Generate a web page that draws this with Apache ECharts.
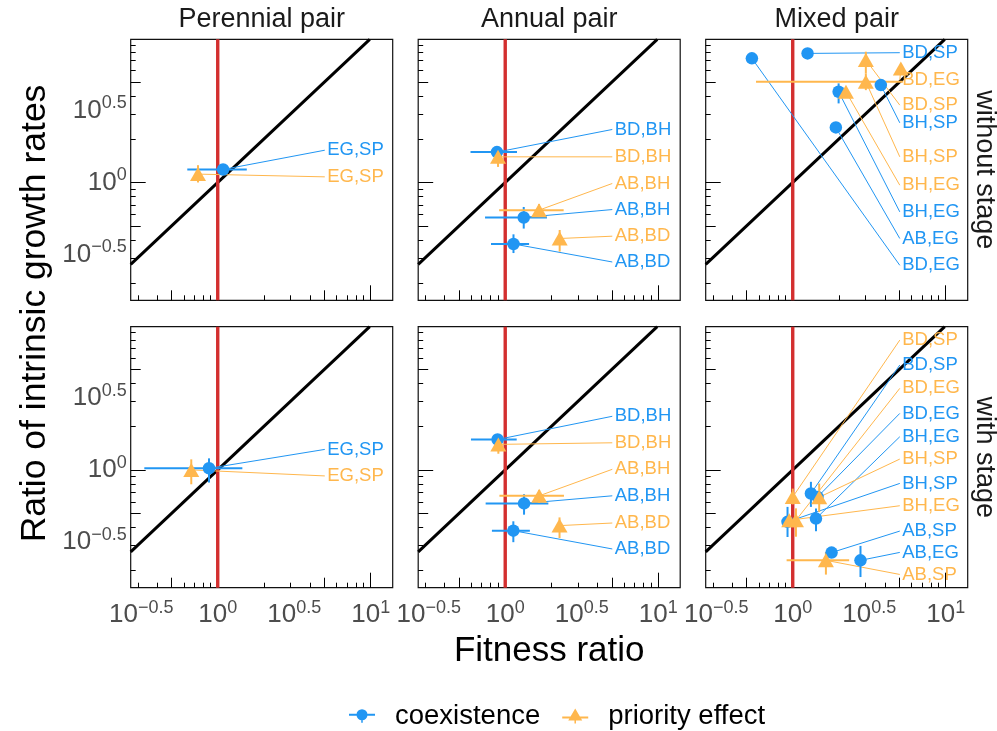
<!DOCTYPE html>
<html><head><meta charset="utf-8">
<script src="https://cdn.jsdelivr.net/npm/echarts@6/dist/echarts.min.js"></script>
<style>html,body{margin:0;padding:0;background:#fff}#c{width:997px;height:731px}</style>
</head><body><div id="c"></div>
<script>
// ---------- tick positions (ratio values) and tick labels (powers of ten) ----------
const xMinorTicks = [0.3, 0.4, 0.6, 0.7, 0.8, 0.9, 2, 3, 4, 6, 7, 8, 9];
const xMidTicks = [0.5, 5];
const xMajorTicks = [1, 10];
const yMinorTicks = [0.2, 0.3, 0.4, 0.6, 0.7, 0.8, 0.9, 2, 3, 4, 6, 7, 8, 9];
const yMidTicks = [0.5, 5];
const yMajorTicks = [1];
const xLabelExponents = [-0.5, 0, 0.5, 1];
const yLabelExponents = [-0.5, 0, 0.5];
const columnTitles = ['Perennial pair', 'Annual pair', 'Mixed pair'];
const rowTitles = ['without stage', 'with stage'];
const seriesNames = ['coexistence', 'priority effect'];
const xTitle = 'Fitness ratio';
const yTitle = 'Ratio of intrinsic growth rates';
const neutralFitness = 1;          // vertical reference line (fitness ratio = 1)

// ---------- data: [pair, log10 fitness ratio, log10 growth-rate ratio, x low, x high, y low, y high] ----------
const perennialWithoutCoex = [['EG,SP', 0.035, 0.090, -0.199, 0.190, 0.07, 0.11]];
const perennialWithoutPrio = [['EG,SP', -0.129, 0.058, null, null, 0.00, 0.12]];
const annualWithoutCoex = [
  ['BD,BH', -0.054, 0.211, -0.227, 0.077, null, null],
  ['AB,BH', 0.121, -0.243, -0.132, 0.273, -0.32, -0.17],
  ['AB,BD', 0.054, -0.427, -0.093, 0.156, -0.49, -0.36]];
const annualWithoutPrio = [
  ['BD,BH', -0.047, 0.178, null, null, 0.108, 0.224],
  ['AB,BH', 0.221, -0.192, -0.040, 0.382, -0.24, -0.15],
  ['AB,BD', 0.356, -0.389, null, null, -0.48, -0.33]];
const mixedWithoutCoex = [
  ['BD,SP', 0.097, 0.896, null, null, null, null],
  ['BH,SP', 0.576, 0.676, null, null, null, null],
  ['BH,EG', 0.300, 0.630, null, null, 0.549, 0.688],
  ['AB,EG', 0.282, 0.382, null, null, null, null],
  ['BD,EG', -0.267, 0.862, null, null, null, null]];
const mixedWithoutPrio = [
  ['BD,EG', 0.707, 0.792, null, null, null, null],
  ['BD,SP', 0.478, 0.850, null, null, 0.757, 0.908],
  ['BH,SP', 0.478, 0.699, -0.240, 0.720, 0.641, 0.757],
  ['BH,EG', 0.348, 0.630, null, null, null, null]];
const perennialWithCoex = [['EG,SP', -0.057, 0.011, -0.480, 0.161, -0.088, 0.080]];
const perennialWithPrio = [['EG,SP', -0.173, 0.000, null, null, -0.100, 0.073]];
const annualWithCoex = [
  ['BD,BH', -0.050, 0.211, -0.224, 0.075, null, null],
  ['AB,BH', 0.123, -0.233, -0.128, 0.282, -0.311, -0.169],
  ['AB,BD', 0.053, -0.422, -0.087, 0.161, -0.502, -0.357]];
const annualWithPrio = [
  ['BD,BH', -0.045, 0.177, null, null, 0.112, 0.234],
  ['AB,BH', 0.222, -0.180, -0.038, 0.384, -0.23, -0.14],
  ['AB,BD', 0.355, -0.387, null, null, -0.473, -0.33]];
const mixedWithCoex = [
  ['BD,SP', 0.119, -0.164, null, null, -0.257, -0.083],
  ['BD,EG', 0.162, -0.188, null, null, null, null],
  ['BH,EG', 0.152, -0.338, null, null, -0.426, -0.268],
  ['BH,SP', -0.034, -0.361, null, null, -0.466, -0.257],
  ['AB,SP', 0.254, -0.574, null, null, null, null],
  ['AB,EG', 0.443, -0.628, null, null, -0.744, -0.528]];
const mixedWithPrio = [
  ['BD,SP', 0.000, -0.188, null, null, -0.24, -0.13],
  ['BD,EG', 0.021, -0.350, null, null, -0.464, -0.267],
  ['BH,SP', 0.173, -0.190, null, null, -0.292, -0.095],
  ['BH,EG', -0.023, -0.350, null, null, null, null],
  ['AB,SP', 0.217, -0.628, -0.040, 0.369, -0.727, -0.570]];

// ---------- repelled label layout (log10 y of each label, same order as data rows) ----------
const perennialWithoutCoexLabelY = [0.224];
const perennialWithoutPrioLabelY = [0.039];
const annualWithoutCoexLabelY = [0.368, -0.188, -0.552];
const annualWithoutPrioLabelY = [0.178, -0.007, -0.373];
const mixedWithoutCoexLabelY = [0.901, 0.414, -0.204, -0.389, -0.575];
const mixedWithoutPrioLabelY = [0.711, 0.537, 0.178, -0.019];
const perennialWithCoexLabelY = [0.142];
const perennialWithPrioLabelY = [-0.042];
const annualWithCoexLabelY = [0.372, -0.180, -0.549];
const annualWithPrioLabelY = [0.188, 0.004, -0.369];
const mixedWithCoexLabelY = [0.728, 0.392, 0.230, -0.094, -0.425, -0.573];
const mixedWithPrioLabelY = [0.901, 0.566, 0.075, -0.249, -0.726];

// ---------- layout & style ----------
const BLUE = '#2196F3', ORANGE = '#FFB74D', RED = '#D32F2F';
const FONT = "'Liberation Sans', Arial, Helvetica, sans-serif";
const X_MIN = -0.569, X_MAX = 1.144, Y_MIN = -0.818, Y_MAX = 0.994;
const LABEL_SEG_X = 0.700, LABEL_TEXT_X = 0.716;
const gridLeft = [130.7, 418.2, 705.7], gridTop = [39.3, 326.7], GW = 262, GH = 261;

const panels = [
  {row: 0, col: 0, coex: perennialWithoutCoex, prio: perennialWithoutPrio, coexLab: perennialWithoutCoexLabelY, prioLab: perennialWithoutPrioLabelY},
  {row: 0, col: 1, coex: annualWithoutCoex, prio: annualWithoutPrio, coexLab: annualWithoutCoexLabelY, prioLab: annualWithoutPrioLabelY},
  {row: 0, col: 2, coex: mixedWithoutCoex, prio: mixedWithoutPrio, coexLab: mixedWithoutCoexLabelY, prioLab: mixedWithoutPrioLabelY},
  {row: 1, col: 0, coex: perennialWithCoex, prio: perennialWithPrio, coexLab: perennialWithCoexLabelY, prioLab: perennialWithPrioLabelY},
  {row: 1, col: 1, coex: annualWithCoex, prio: annualWithPrio, coexLab: annualWithCoexLabelY, prioLab: annualWithPrioLabelY},
  {row: 1, col: 2, coex: mixedWithCoex, prio: mixedWithPrio, coexLab: mixedWithCoexLabelY, prioLab: mixedWithPrioLabelY}
];

function powLabel(v) {
  const e = Math.round(v * 10) / 10;
  const s = e < 0 ? '\u2212' + Math.abs(e) : String(e);
  return '{b|10}{s|' + s + '}';
}
const richPow = {
  b: {fontSize: 26, lineHeight: 32, color: '#4D4D4D', fontFamily: FONT},
  s: {fontSize: 18, lineHeight: 18, verticalAlign: 'top', color: '#4D4D4D', fontFamily: FONT}
};

function baseAxis(g, pos, min, max) {
  return {type: 'value', gridIndex: g, position: pos, min: min, max: max,
    axisLine: {show: false, onZero: false}, splitLine: {show: false},
    axisTick: {show: false}, axisLabel: {show: false}};
}
function tickAxis(g, pos, min, max, ticks, len) {
  const a = baseAxis(g, pos, min, max);
  a.axisTick = {show: true, inside: true, length: len, customValues: ticks.map(Math.log10),
    lineStyle: {color: '#000', width: 1}};
  return a;
}

const grid = [], xAxis = [], yAxis = [], series = [];
panels.forEach((p, g) => {
  grid.push({left: gridLeft[p.col], top: gridTop[p.row], width: GW, height: GH,
    show: true, borderColor: '#111', borderWidth: 1.2, backgroundColor: 'transparent'});
  const xi = xAxis.length, yi = yAxis.length;
  const mx = baseAxis(g, 'bottom', X_MIN, X_MAX);
  if (p.row === 1) {
    mx.axisLabel = {show: true, customValues: xLabelExponents, margin: 11,
      formatter: powLabel, rich: richPow, color: '#4D4D4D', fontFamily: FONT};
  }
  const my = baseAxis(g, 'left', Y_MIN, Y_MAX);
  if (p.col === 0) {
    my.axisLabel = {show: true, customValues: yLabelExponents, margin: 4,
      formatter: powLabel, rich: richPow, color: '#4D4D4D', fontFamily: FONT};
  }
  xAxis.push(mx,
    tickAxis(g, 'bottom', X_MIN, X_MAX, xMinorTicks, 5),
    tickAxis(g, 'bottom', X_MIN, X_MAX, xMidTicks, 10),
    tickAxis(g, 'bottom', X_MIN, X_MAX, xMajorTicks, 15));
  yAxis.push(my,
    tickAxis(g, 'left', Y_MIN, Y_MAX, yMinorTicks, 5),
    tickAxis(g, 'left', Y_MIN, Y_MAX, yMidTicks, 10),
    tickAxis(g, 'left', Y_MIN, Y_MAX, yMajorTicks, 15));

  // 1:1 line and fitness-ratio = 1 line
  series.push({type: 'line', xAxisIndex: xi, yAxisIndex: yi, silent: true, showSymbol: false, symbol: 'none',
    data: [[X_MIN, X_MIN], [Y_MAX, Y_MAX]], lineStyle: {color: '#000', width: 3}, z: 1});
  const xr = Math.log10(neutralFitness);
  series.push({type: 'line', xAxisIndex: xi, yAxisIndex: yi, silent: true, showSymbol: false, symbol: 'none',
    data: [[xr, Y_MIN], [xr, Y_MAX]], lineStyle: {color: RED, width: 3.4}, z: 2});

  [[p.coex, p.coexLab, BLUE, 0], [p.prio, p.prioLab, ORANGE, 1]].forEach(([rows, labs, color, k]) => {
    // repel segments + labels
    series.push({type: 'custom', xAxisIndex: xi, yAxisIndex: yi, silent: true, z: 3,
      data: rows.map(r => [r[1], r[2]]), encode: {x: 0, y: 1},
      renderItem: (params, api) => {
        const r = rows[params.dataIndex];
        const ly = labs[params.dataIndex];
        const a = api.coord([r[1], r[2]]);
        const b = api.coord([LABEL_SEG_X, ly]);
        const t = api.coord([LABEL_TEXT_X, ly]);
        return {type: 'group', children: [
          {type: 'line', shape: {x1: a[0], y1: a[1], x2: b[0], y2: b[1]}, style: {stroke: color, lineWidth: 1}},
          {type: 'text', x: t[0], y: t[1], style: {text: r[0], fill: color, fontSize: 18.5, fontFamily: FONT,
            align: 'left', verticalAlign: 'middle', textAlign: 'left', textVerticalAlign: 'middle'}}
        ]};
      }});
    // error bars
    series.push({type: 'custom', xAxisIndex: xi, yAxisIndex: yi, silent: true, z: 4,
      data: rows.map(r => [r[1], r[2]]), encode: {x: 0, y: 1},
      renderItem: (params, api) => {
        const r = rows[params.dataIndex];
        const ch = [];
        if (r[3] != null) {
          const a = api.coord([r[3], r[2]]), b = api.coord([r[4], r[2]]);
          ch.push({type: 'line', shape: {x1: a[0], y1: a[1], x2: b[0], y2: b[1]}, style: {stroke: color, lineWidth: 2}});
        }
        if (r[5] != null) {
          const a = api.coord([r[1], r[5]]), b = api.coord([r[1], r[6]]);
          ch.push({type: 'line', shape: {x1: a[0], y1: a[1], x2: b[0], y2: b[1]}, style: {stroke: color, lineWidth: 2}});
        }
        return {type: 'group', children: ch};
      }});
    // points
    series.push({type: 'scatter', name: seriesNames[k], xAxisIndex: xi, yAxisIndex: yi, z: 5,
      data: rows.map(r => [r[1], r[2]]),
      symbol: k === 0 ? 'circle' : 'triangle', symbolSize: k === 0 ? 12.5 : [16, 14],
      itemStyle: {color: color, opacity: 1}});
  });
});

const circleIcon = 'path://M0,7 L26,7 L26,9 L0,9 Z M12.25,8 L13.75,8 L13.75,16 L12.25,16 Z M13,2.5 A5.5,5.5 0 1,1 13,13.5 A5.5,5.5 0 1,1 13,2.5 Z';
const triIcon = 'path://M0,9 L26,9 L26,11 L0,11 Z M12.25,10 L13.75,10 L13.75,16 L12.25,16 Z M13,1 L20,13 L6,13 Z';

const graphic = [];
columnTitles.forEach((t, i) => graphic.push({type: 'text', x: gridLeft[i] + GW / 2, y: 20,
  style: {text: t, fill: '#1A1A1A', fontSize: 27, fontFamily: FONT, align: 'center', verticalAlign: 'middle', textAlign: 'center', textVerticalAlign: 'middle'}}));
rowTitles.forEach((t, i) => graphic.push({type: 'text', x: 984, y: gridTop[i] + GH / 2, rotation: -Math.PI / 2,
  style: {text: t, fill: '#1A1A1A', fontSize: 27, fontFamily: FONT, align: 'center', verticalAlign: 'middle', textAlign: 'center', textVerticalAlign: 'middle'}}));
graphic.push({type: 'text', x: (gridLeft[0] + gridLeft[2] + GW) / 2, y: 651,
  style: {text: xTitle, fill: '#000', fontSize: 35, fontFamily: FONT, align: 'center', verticalAlign: 'middle', textAlign: 'center', textVerticalAlign: 'middle'}});
graphic.push({type: 'text', x: 35, y: (gridTop[0] + gridTop[1] + GH) / 2, rotation: Math.PI / 2,
  style: {text: yTitle, fill: '#000', fontSize: 35.5, fontFamily: FONT, align: 'center', verticalAlign: 'middle', textAlign: 'center', textVerticalAlign: 'middle'}});

const chart = echarts.init(document.getElementById('c'), null, {renderer: 'canvas'});
chart.setOption({
  animation: false,
  backgroundColor: '#fff',
  textStyle: {fontFamily: FONT},
  grid, xAxis, yAxis, series, graphic,
  legend: {
    data: [{name: seriesNames[0], icon: circleIcon}, {name: seriesNames[1], icon: triIcon}],
    left: 344, top: 697, itemWidth: 26, itemHeight: 16, itemGap: 22,
    textStyle: {fontSize: 27.5, color: '#000', fontFamily: FONT, padding: [0, 0, 0, 15]},
    selectedMode: false
  }
});
</script></body></html>
